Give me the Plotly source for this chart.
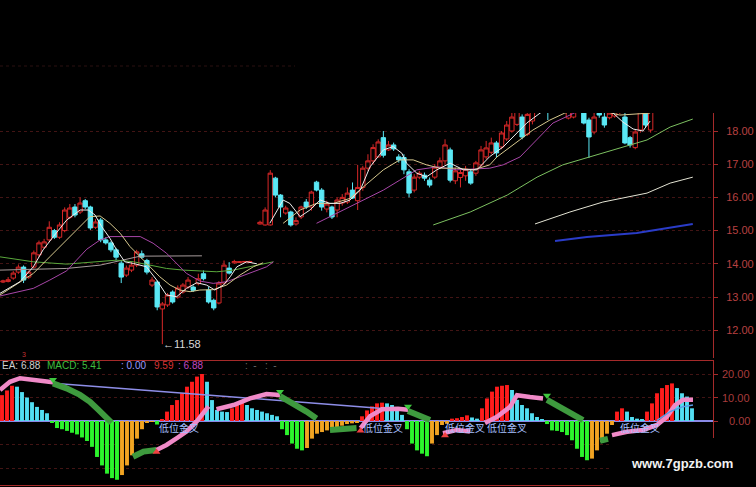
import plotly.graph_objects as go

W, H = 756, 487

# ---------------- price candles (bar index, OHLC) ----------------
c_idx = list(range(0, 49)) + list(range(50, 127))
c_open = [13.45, 13.47, 13.57, 13.75, 13.90, 13.60, 13.90, 14.27, 14.50, 14.72,
          15.00, 14.80, 15.00, 15.40, 15.71, 15.56, 15.90, 15.71, 15.10, 15.32,
          14.72, 14.63, 14.42, 14.02, 13.66, 13.81, 13.96, 14.30, 14.10, 13.36,
          13.45, 12.64, 12.76, 13.15, 13.00, 13.15, 13.30, 13.30, 13.40, 13.70,
          13.21, 12.90, 12.82, 13.42, 13.87, 14.03, 14.04, 14.05, 14.05,
          15.20, 15.17, 15.17, 16.58, 16.07, 15.53, 15.56, 15.20, 15.41, 15.86,
          15.71, 16.46, 16.22, 15.65, 15.71, 15.62, 15.83, 15.86, 16.22, 15.90,
          16.30, 16.88, 17.10, 17.22, 17.80, 17.43, 17.58, 17.22, 17.20, 16.77,
          16.22, 16.61, 16.67, 16.52, 16.61, 16.91, 17.10, 17.43, 16.50, 16.60,
          16.65, 16.77, 16.73, 16.98, 17.22, 17.36, 17.64, 17.52, 17.76, 18.00,
          18.20, 18.42, 17.90, 18.30, 18.80, 18.60, 18.90, 18.65, 19.00, 18.70,
          18.39, 18.42, 18.70, 18.54, 18.33, 17.97, 18.54, 18.42, 18.40, 18.45,
          18.60, 18.42, 17.80, 17.50, 18.03, 18.80, 18.03]
c_high = [13.52, 13.60, 13.78, 13.98, 13.95, 13.80, 14.40, 14.70, 14.75, 15.28,
          15.05, 15.25, 15.70, 15.80, 15.80, 16.00, 15.95, 15.75, 15.35, 15.38,
          14.80, 14.68, 14.48, 14.10, 13.95, 14.05, 14.42, 14.40, 14.15, 13.60,
          13.50, 12.85, 13.12, 13.20, 13.35, 13.42, 13.60, 13.35, 13.70, 13.80,
          13.30, 12.95, 13.48, 14.10, 14.05, 14.12, 14.08, 14.08, 14.09,
          15.30, 15.70, 16.82, 16.62, 16.10, 15.75, 15.60, 15.40, 15.75, 15.95,
          16.20, 16.50, 16.28, 15.90, 15.75, 16.00, 16.10, 16.30, 16.45, 16.98,
          16.95, 17.30, 17.60, 17.75, 18.00, 17.70, 17.65, 17.30, 17.30, 16.85,
          16.70, 16.80, 16.75, 16.60, 17.00, 17.20, 17.75, 17.50, 16.90, 16.85,
          16.95, 16.85, 17.10, 17.55, 17.70, 17.80, 17.70, 18.00, 18.30, 18.55,
          18.80, 18.50, 18.70, 18.80, 18.90, 19.00, 19.00, 19.10, 19.20, 18.95,
          18.80, 18.80, 18.90, 18.70, 18.40, 18.55, 18.70, 18.55, 18.70, 18.75,
          18.95, 18.60, 17.85, 18.05, 18.80, 18.90, 18.80]
c_low = [13.42, 13.44, 13.52, 13.70, 13.42, 13.55, 13.85, 14.20, 14.45, 14.65,
         14.75, 14.75, 14.95, 15.35, 15.40, 15.50, 15.65, 15.02, 15.05, 14.65,
         14.58, 14.35, 14.10, 13.42, 13.60, 13.75, 13.90, 14.15, 13.68, 13.30,
         12.60, 11.58, 12.70, 12.80, 12.95, 13.10, 13.25, 13.15, 13.35, 13.50,
         12.80, 12.60, 12.78, 13.38, 13.68, 14.00, 14.03, 14.04, 14.04,
         15.18, 15.15, 15.15, 16.00, 15.40, 15.48, 15.12, 15.15, 15.35, 15.65,
         15.60, 16.18, 15.60, 15.55, 15.35, 15.40, 15.75, 15.80, 15.95, 15.62,
         16.20, 16.80, 17.00, 17.20, 17.20, 17.40, 17.40, 17.05, 16.70, 16.00,
         16.15, 16.55, 16.50, 16.30, 16.55, 16.85, 17.00, 16.45, 16.40, 16.30,
         16.50, 16.38, 16.65, 16.90, 17.15, 17.30, 17.20, 17.45, 17.70, 17.95,
         18.15, 17.75, 17.85, 18.20, 18.55, 18.55, 18.33, 18.60, 18.70, 18.60,
         18.35, 18.38, 18.55, 18.20, 17.19, 17.90, 18.40, 18.10, 18.35, 18.40,
         18.50, 17.60, 17.50, 17.45, 17.95, 18.10, 17.95]
c_close = [13.48, 13.52, 13.72, 13.90, 13.51, 13.75, 14.33, 14.63, 14.66, 15.10,
           14.80, 15.17, 15.62, 15.68, 15.47, 15.83, 15.71, 15.08, 15.26, 14.72,
           14.63, 14.42, 14.20, 13.60, 13.87, 13.96, 14.36, 14.20, 13.75, 13.51,
           12.70, 12.79, 13.06, 12.85, 13.27, 13.36, 13.51, 13.20, 13.55, 13.55,
           12.85, 12.67, 13.42, 13.96, 13.72, 14.07, 14.06, 14.07, 14.07,
           15.25, 15.62, 16.73, 16.07, 15.71, 15.68, 15.17, 15.30, 15.71, 15.71,
           16.16, 16.22, 15.71, 15.80, 15.41, 15.92, 16.00, 16.13, 15.98, 16.30,
           16.88, 17.10, 17.50, 17.67, 17.27, 17.58, 17.46, 17.13, 16.83, 16.13,
           16.61, 16.73, 16.58, 16.37, 16.91, 17.10, 17.58, 16.52, 16.80, 16.75,
           16.85, 16.43, 17.04, 17.43, 17.49, 17.64, 17.34, 17.94, 18.18, 18.42,
           18.60, 17.82, 18.50, 18.70, 18.62, 18.90, 18.62, 19.00, 18.80, 18.85,
           18.62, 18.65, 18.75, 18.24, 17.82, 18.42, 18.48, 18.18, 18.54, 18.62,
           18.88, 17.64, 17.58, 17.97, 18.70, 18.18, 18.60]
assert len(c_idx) == len(c_open) == len(c_high) == len(c_low) == len(c_close)

low_label_idx, low_label_val = 31, 11.58
price_ticks = [12, 13, 14, 15, 16, 17, 18]

# ---------------- moving-average lines ----------------
ma5_a_x = [-0.6, 3.3, 5.9, 7.8, 9.8, 12.4, 15, 16.6, 17.9, 19.2, 20.8, 22.1, 23.7, 25.4, 27.9,
           29.9, 31.8, 33.8, 35.7, 37.7, 39.6, 41.2, 42.9, 44.2, 45.5, 47.4, 49.4]
ma5_a_y = [13.11, 13.46, 13.91, 14.42, 14.82, 15.32, 15.62, 15.62, 15.47, 15.12, 14.77, 14.42, 14.06,
           14.01, 13.91, 13.51, 13.06, 13.01, 13.26, 13.43, 13.36, 13.21, 13.36, 13.61, 13.91, 14.06, 14.0]
ma10_a_x = [-0.6, 5.9, 9.1, 12.4, 15, 16.9, 18.9, 20.8, 22.8, 24.7, 26.7, 28.6, 30.5, 32.5, 34.4,
            36.4, 38.3, 40.9, 43.5, 46.1, 48.7, 50.6]
ma10_a_y = [13.06, 13.71, 14.21, 14.72, 15.12, 15.42, 15.44, 15.22, 14.92, 14.52, 14.21, 13.91, 13.61,
            13.36, 13.21, 13.16, 13.21, 13.22, 13.36, 13.66, 13.91, 14.03]
ma20_a_x = [-0.6, 5.9, 9.1, 12.4, 14.3, 16.3, 18.9, 20.8, 26.7, 29.2, 31.8, 33.8, 35.7, 38.3, 40.9,
            43.5, 46.1, 48.7, 51.3, 52.6]
ma20_a_y = [13.03, 13.26, 13.51, 13.79, 14.11, 14.44, 14.72, 14.82, 14.82, 14.62, 14.32, 14.02, 13.71,
            13.48, 13.41, 13.46, 13.61, 13.76, 13.91, 14.06]
ma60_a_x = [-0.6, 5.9, 12.4, 18.9, 22.1, 25.4, 28.6, 31.8, 35.1, 38.3, 41.6, 44.8, 48.1, 52.6]
ma60_a_y = [14.21, 14.06, 13.99, 14.06, 14.11, 14.06, 13.96, 13.86, 13.81, 13.78, 13.76, 13.81, 13.91, 14.06]
ma120_a_x = [-0.6, 5.9, 12.4, 18.9, 26.7, 38.7]
ma120_a_y = [13.81, 13.83, 13.86, 13.96, 14.23, 14.24]

ma5_b_x = [51.9, 54.5, 55.8, 57.8, 59.7, 61.7, 63.6, 65.6, 67.5, 69.5, 71.4, 74, 75.9, 77.6, 78.5,
           80.5, 82.4, 84.4, 87, 89.6, 92.2, 94.7, 97.3, 100, 101.9, 104.5, 107.4, 112.3, 117.1,
           118.7, 120.6, 122.6, 124.5, 125.9]
ma5_b_y = [15.22, 15.92, 15.82, 15.42, 15.62, 15.92, 15.82, 15.82, 15.92, 16.22, 16.92, 17.43, 17.53,
           17.33, 17.03, 16.73, 16.62, 16.83, 17.03, 16.83, 16.83, 17.23, 17.52, 17.94, 18.24, 18.54,
           18.8, 18.8, 18.6, 18.54, 18.27, 18.06, 18.0, 18.3]
ma10_b_x = [54.5, 57.8, 61, 64.3, 67.5, 70.8, 74, 77.2, 79.8, 82.4, 85, 88.3, 91.5, 94.7, 96.1, 100,
            103.1, 106.4, 109.3, 114.2, 120, 125.9]
ma10_b_y = [15.22, 15.62, 15.82, 15.82, 15.97, 16.42, 16.83, 17.13, 17.13, 16.98, 16.88, 16.88, 16.83,
            16.98, 17.22, 17.67, 18.03, 18.33, 18.54, 18.7, 18.48, 18.54]
ma20_b_x = [61, 67.5, 74, 77.2, 80.5, 84.4, 88.3, 94.7, 97.3, 100.6, 103.9, 107, 110.3, 112.3]
ma20_b_y = [15.22, 15.72, 16.22, 16.52, 16.83, 16.92, 16.83, 16.88, 16.98, 17.22, 17.73, 18.24, 18.48, 18.63]
long_green_x = [83.7, 90.9, 98.1, 103.9, 108.9, 113.6, 120, 125.3, 129.8, 134.2]
long_green_y = [15.17, 15.56, 16.07, 16.61, 16.98, 17.19, 17.49, 17.73, 18.12, 18.36]
long_white_x = [103.5, 110.3, 116.7, 125.3, 129.8, 134.2]
long_white_y = [15.2, 15.56, 15.86, 16.13, 16.43, 16.61]
long_blue_x = [107.4, 113.6, 123.3, 134.2]
long_blue_y = [14.69, 14.81, 14.93, 15.2]

# ---------------- MACD histogram ----------------
macd_val = [11, 13, 15, 14.6, 12.3, 10, 8, 6, 4.7, 3.3,
            -0.5, -3, -3.5, -4.2, -5, -5.7, -7, -8.5, -11, -15.3,
            -18.9, -22.4, -24.3, -25, -23, -18.9, -14.6, -7.5, -3.5, -0.7,
            -0.3, -1.5, 0.5, 4, 6.8, 8.9, 11.8, 14.6, 16.7, 18.9,
            20, 16.7, 8.9, 4.7, 4.0, 3.8, 5.4, 7.5, 7.8, 6.8,
            5.4, 4.7, 4.0, 3.3, 2.6, 2.0, -3.5, -6, -9.6, -11.8,
            -12.5, -11.5, -7.5, -5.4, -4.7, -4.0, -3.3, -2.6, -2.0, -1.3,
            -1.0, -0.5, 2.0, 4.5, 6.2, 7.5, 7.8, 7.5, 6.8, 4.7,
            2.6, -3.5, -9.6, -12.5, -13.9, -15, -9.6, -6, -1.7, -1.2,
            1.0, 1.2, 1.7, 2.4, 1.5, 1.0, 5.4, 9.6, 12.5, 14.6,
            15.0, 15.3, 13.2, 9.0, 6.8, 5.4, 3.3, 1.7, 0.5, -1.3,
            -4.0, -4.2, -4.7, -6.0, -8.2, -11.8, -15.3, -16.7, -16, -12.5,
            -8.9, -5.4, -1.7, 4.0, 5.4, 4.0, 1.7, 1.0, 0.8, 4.0,
            7.5, 11.8, 14.0, 15.3, 16.0, 14.0, 11.8, 10.4, 5.4]
macd_k = list(range(len(macd_val)))

# DIF/DEA ribbons (bar index, value)
pink_segs = [
    ([-0.4, 1.6, 3.6, 6.2, 8.2, 10.2], [13.2, 16.7, 18.2, 17.7, 17.2, 16.5]),
    ([30.9, 32.9, 34.9, 36.9, 38.9, 40.3, 41.3], [-12.3, -10.2, -7.4, -4.5, -0.3, 3.3, 6.2]),
    ([42.9, 46.3, 49.6, 52.9, 55.6], [5.0, 6.8, 9.6, 11.5, 11.1]),
    ([71.7, 73.6, 76.0, 79.2, 81.2], [-3.0, 2.0, 5.0, 5.2, 4.8]),
    ([88.2, 91, 93.6], [-5.2, -3.8, -4.5]),
    ([96.6, 99, 101.6, 103, 105.6, 108.2], [-0.9, 1.8, 6.0, 11.0, 10.2, 9.6]),
    ([122, 125, 128.2, 131, 133, 134.6, 136.2, 138.2], [-6, -4.6, -3.8, -1.7, 1.8, 6.8, 9, 9]),
]
green_segs = [
    ([10.2, 12.9, 15.6, 17.6, 19.3, 20.9, 21.9], [16.0, 13.9, 11.1, 8.2, 4.7, 1.1, -0.7]),
    ([26.2, 28.3, 30.9], [-15.2, -13.0, -12.3]),
    ([55.6, 58.3, 60.9, 62.9], [10.6, 7.5, 4.0, 1.1]),
    ([65.6, 68.5, 70.9], [-3.8, -3.4, -3.0]),
    ([81.2, 83.6, 85.6], [4.3, 1.8, 0.4]),
    ([109, 111.6, 114.2, 116.2], [9.0, 6.0, 2.6, 0.4]),
    ([119.6, 121.2], [-8.4, -7.6]),
]
blue_dif_x = [131, 133.6, 136.2, 138.2]
blue_dif_y = [0.3, 4.0, 6.1, 6.8]
lav_x = [10.9, 78]
lav_y = [16.0, 5.0]
down_arrow_x = [10.2, 55.6, 81.2, 109]
down_arrow_y = [17.6, 12.4, 6.2, 10.8]
up_arrow_x = [30.9, 71.7, 88.6]
up_arrow_y = [-13.2, -4.2, -6.2]
cross_label_x = [35.4, 76.2, 92.6, 101.0, 127.6]
cross_label_y = [-3.8, -3.8, -3.8, -3.8, -3.8]
cross_label = "低位金叉"

# ---------------- figure ----------------
RED, CYAN, GREEN, ORANGE = "#ff1c1c", "#52def2", "#2cf52c", "#f2a422"
bar_colors = []
prev = 0
for v in macd_val:
    if v >= 0:
        bar_colors.append(RED if v >= prev else CYAN)
    else:
        bar_colors.append(GREEN if v <= prev else ORANGE)
    prev = v

fig = go.Figure()

def line(x, y, color, width=1, axis=("x", "y")):
    fig.add_trace(go.Scatter(x=x, y=y, mode="lines", line=dict(color=color, width=width),
                             xaxis=axis[0], yaxis=axis[1], hoverinfo="skip"))

line(ma120_a_x, ma120_a_y, "#a89c9c")
line(ma60_a_x, ma60_a_y, "#5aa83c")
line(long_green_x, long_green_y, "#7cc060")
line(long_white_x, long_white_y, "#e4e4d4")
line(long_blue_x, long_blue_y, "#2a3cc8", 2)

fig.add_trace(go.Candlestick(
    x=c_idx, open=c_open, high=c_high, low=c_low, close=c_close,
    increasing=dict(line=dict(color="#d82828", width=1), fillcolor="#000000"),
    decreasing=dict(line=dict(color="#5ae8f5", width=1), fillcolor="#5ae8f5"),
    whiskerwidth=0, xaxis="x", yaxis="y", hoverinfo="skip"))

line(ma20_a_x, ma20_a_y, "#a846a8")
line(ma20_b_x, ma20_b_y, "#a846a8")
line(ma10_a_x, ma10_a_y, "#d6c88e")
line(ma10_b_x, ma10_b_y, "#d6c88e")
line(ma5_a_x, ma5_a_y, "#eeeeee")
line(ma5_b_x, ma5_b_y, "#eeeeee")

# MACD panel
fig.add_trace(go.Bar(x=macd_k, y=macd_val, marker=dict(color=bar_colors, line=dict(width=0)),
                     width=0.78, xaxis="x2", yaxis="y2", hoverinfo="skip"))
line(lav_x, lav_y, "#8e8ee8", 1.5, ("x2", "y2"))
for sx, sy in green_segs:
    line(sx, sy, "#3e9a3e", 6, ("x2", "y2"))
for sx, sy in pink_segs:
    line(sx, sy, "#f08ac8", 4.5, ("x2", "y2"))
line(blue_dif_x, blue_dif_y, "#5a9ae8", 1.5, ("x2", "y2"))
fig.add_trace(go.Scatter(x=down_arrow_x, y=down_arrow_y, mode="markers", xaxis="x2", yaxis="y2",
                         marker=dict(symbol="triangle-down", size=7, color="#3ec83e"), hoverinfo="skip"))
fig.add_trace(go.Scatter(x=up_arrow_x, y=up_arrow_y, mode="markers", xaxis="x2", yaxis="y2",
                         marker=dict(symbol="triangle-up", size=7, color="#f04040"), hoverinfo="skip"))
fig.add_trace(go.Scatter(x=cross_label_x, y=cross_label_y, mode="text", xaxis="x2", yaxis="y2",
                         text=[cross_label] * len(cross_label_x),
                         textfont=dict(family="Noto Sans CJK SC", size=10, color="#a8c0ff"),
                         hoverinfo="skip"))

# geometry (pixel -> paper)
def pxx(p): return p / W
def pxy(p): return 1 - p / H

price_top, price_bot = 113, 358
macd_top, macd_bot = 361, 485
axis_right = 713
# price scale: 18 at y=131, 33.2 px per unit ; macd: 0 at y=421, 2.35 px per unit
p_hi = 18 + (131 - price_top) / 33.2
p_lo = 18 - (price_bot - 131) / 33.2
m_hi = (421 - macd_top) / 2.35
m_lo = (421 - macd_bot) / 2.35
x_lo, x_hi = (0 - 3) / 5.14, (axis_right - 3) / 5.14
k_lo, k_hi = (0 - 2) / 5.0, (axis_right - 2) / 5.0

AX = "#a52a2a"
GRID = "#421414"
fig.update_layout(
    width=W, height=H, margin=dict(l=0, r=0, t=0, b=0),
    paper_bgcolor="#000000", plot_bgcolor="#000000", showlegend=False,
    font=dict(family="Liberation Sans, Arial, sans-serif"),
    boxgap=0.15, boxgroupgap=0.0,
    xaxis=dict(domain=[0, pxx(axis_right)], range=[x_lo, x_hi], anchor="y",
               showgrid=False, zeroline=False, showticklabels=False, ticks="",
               rangeslider=dict(visible=False), showline=False),
    yaxis=dict(domain=[pxy(price_bot), pxy(price_top)], range=[p_lo, p_hi], anchor="x",
               side="right", tickvals=price_ticks, tickformat=".2f",
               tickfont=dict(size=11, color="#b84040"), ticks="outside", ticklen=4,
               tickcolor=AX, ticklabelstandoff=6,
               showgrid=True, gridcolor=GRID, griddash="dot", gridwidth=1,
               zeroline=False, showline=True, linecolor=AX, linewidth=1),
    xaxis2=dict(domain=[0, pxx(axis_right)], range=[k_lo, k_hi], anchor="y2",
                showgrid=False, zeroline=False, showticklabels=False, ticks="",
                showline=True, mirror=True, linecolor=AX, linewidth=1),
    yaxis2=dict(domain=[pxy(macd_bot), pxy(macd_top)], range=[m_lo, m_hi], anchor="x2",
                side="right", tickvals=[-20, -10, 0, 10, 20], showticklabels=False,
                ticks="outside", ticklen=4, tickcolor=AX,
                showgrid=True, gridcolor=GRID, griddash="dot", gridwidth=1,
                zeroline=True, zerolinecolor="#8a8ae6", zerolinewidth=1.5,
                showline=True, linecolor=AX, linewidth=1),
)

ann = []
for v in [20, 10, 0]:
    ann.append(dict(x=pxx(752), xref="paper", y=v, yref="y2", text=f"{v:.2f}", showarrow=False,
                    xanchor="right", yanchor="middle", font=dict(size=11, color="#a83c3c")))
ann.append(dict(x=low_label_idx, y=low_label_val, xref="x", yref="y", text="←" + f"{low_label_val:.2f}",
                showarrow=False, xanchor="left", yanchor="middle", xshift=-1,
                font=dict(size=11, color="#d8d8d8")))
header = [(0, "EA: 6.88", "#d0d0d0"), (45, "MACD: 5.41", "#3fbf3f"), (119, ": 0.00", "#9a9aff"),
          (152, "9.59", "#d83232"), (176, ": 6.88", "#c048c0"), (243, ":  -   :  -", "#6a6a6a")]
for x0, t, c in header:
    ann.append(dict(x=pxx(x0), y=pxy(365), xref="paper", yref="paper", text=t, showarrow=False,
                    xanchor="left", yanchor="middle", font=dict(size=10, color=c)))
ann.append(dict(x=pxx(20), y=pxy(354), xref="paper", yref="paper", text="3", showarrow=False,
                xanchor="left", yanchor="middle", font=dict(size=7, color="#c03030")))
ann.append(dict(x=pxx(682), y=pxy(463), xref="paper", yref="paper", text="<b>www.7gpzb.com</b>",
                showarrow=False, xanchor="center", yanchor="middle",
                font=dict(size=13, color="#f2f2f2", family="Liberation Sans, Arial")))
fig.update_layout(annotations=ann)

fig.update_layout(shapes=[
    dict(type="rect", xref="paper", yref="paper", x0=pxx(610), x1=1, y0=0, y1=pxy(438),
         fillcolor="#000000", line=dict(width=0), layer="above"),
    dict(type="line", xref="paper", yref="paper", x0=0, x1=pxx(295), y0=pxy(66), y1=pxy(66),
         line=dict(color="#2a1010", width=1, dash="dot"), layer="below"),
])

fig.write_html("out.html", config={"displayModeBar": False},
               post_script="document.body.style.margin='0';document.body.style.background='#000';")
